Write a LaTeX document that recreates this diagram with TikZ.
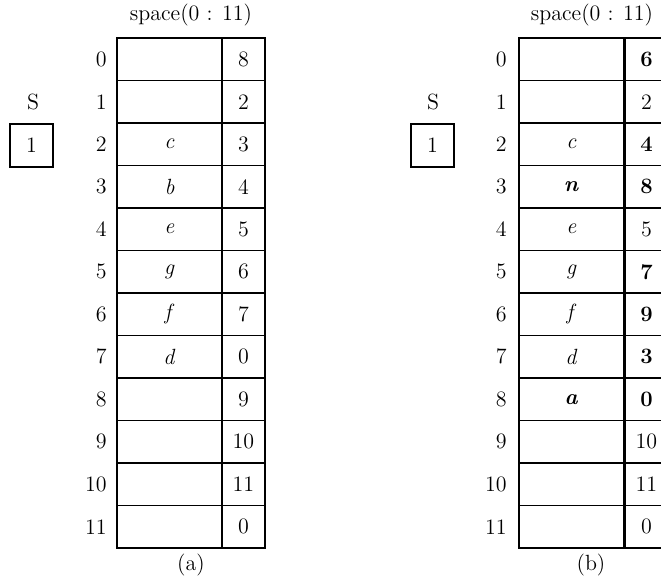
\documentclass[tikz,border=0pt]{standalone}
\usepackage{amsmath,amssymb}
\usepackage{tikz}

\newcommand{\newkey}[1]{\textbf{\textit{#1}}}
\newcommand{\newlink}[1]{\textbf{#1}}

\begin{document}
\begin{tikzpicture}[x=0.5pt,y=-0.5pt,
  every node/.style={font=\fontsize{11}{13}\selectfont},
  cell/.style={draw,line width=0.9pt,minimum height=21.25pt,inner sep=0pt},
  keycell/.style={cell,minimum width=52.5pt},
  linkcell/.style={cell,minimum width=21.5pt},
  idx/.style={anchor=east,inner sep=0pt}]
\clip (0,0) rectangle (661,579);
% (a)
\node (titleA) at (191,15) {space(0 : 11)};
\node (sA) at (33,102) {S};
\node[cell,minimum width=21.5pt] (headA) at (31.5,145.5) {1};
\foreach \i/\k/\n in {0//8,1//2,2/c/3,3/b/4,4/e/5,5/g/6,6/f/7,7/d/0,8//9,9//10,10//11,11//0} {
  \node[idx] (idxA\i) at (107,{59.25+42.5*\i}) {\i};
  \node[keycell] (keyA\i) at (169.5,{59.25+42.5*\i}) {\textit{\k}};
  \node[linkcell] (linkA\i) at (243.5,{59.25+42.5*\i}) {\n};
}
\node (capA) at (191,565) {(a)};
% (b)
\node (titleB) at (592,15) {space(0 : 11)};
\node (sB) at (433,102) {S};
\node[cell,minimum width=21.5pt] (headB) at (432.5,145.5) {1};
\foreach \i/\k/\n in {0//\newlink{6},1//2,2/c/\newlink{4},3/\newkey{n}/\newlink{8},
    4/e/5,5/g/\newlink{7},6/f/\newlink{9},7/d/\newlink{3},8/\newkey{a}/\newlink{0},
    9//10,10//11,11//0} {
  \node[idx] (idxB\i) at (507,{59.25+42.5*\i}) {\i};
  \node[keycell] (keyB\i) at (571.5,{59.25+42.5*\i}) {\textit{\k}};
  \node[linkcell] (linkB\i) at (646.5,{59.25+42.5*\i}) {\n};
}
\node (capB) at (591,565) {(b)};
\end{tikzpicture}
\end{document}
